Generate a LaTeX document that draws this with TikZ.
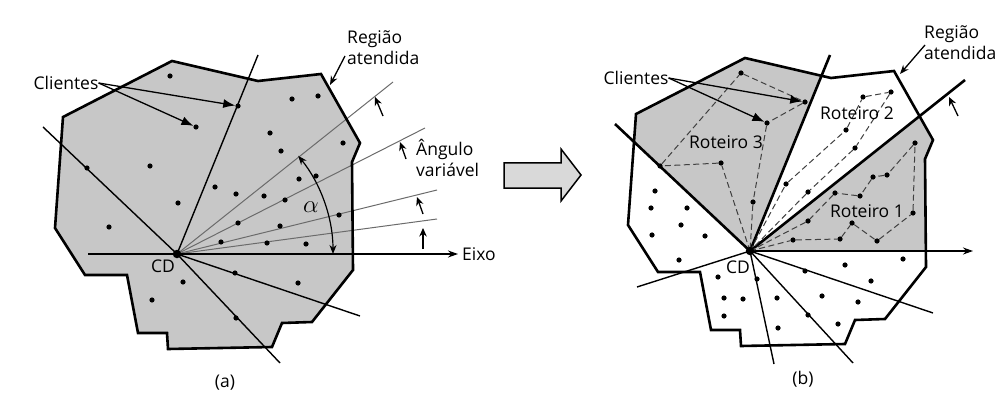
\documentclass[tikz,border=0pt]{standalone}
\usepackage{fontspec}
\setmainfont{Open Sans}
\usetikzlibrary{arrows.meta,calc}
\definecolor{regiongray}{gray}{0.78}
\definecolor{arrowgray}{gray}{0.85}
\definecolor{raygray}{gray}{0.42}
\definecolor{routegray}{gray}{0.25}

% outline of the served region (panel a coordinates)
\newcommand\regionoutline{(172,61) -- (258,81) -- (321,74) -- (360,143) -- (352,162) -- (353,270) -- (312,322) -- (282,323) -- (272,347) -- (168,349) -- (167,333) -- (138,333) -- (127,275) -- (85,275) -- (55,228) -- (63,117) -- cycle}

\begin{document}
\begin{tikzpicture}[x=1pt,y=-1pt,
  txt/.style={font=\fontsize{17.5}{21}\selectfont, inner sep=0pt},
  client/.style={circle, fill=black, inner sep=0pt, minimum size=5.2pt},
  depot/.style={circle, fill=black, inner sep=0pt, minimum size=8.5pt},
  border/.style={line width=2.6pt, line join=miter},
  sector/.style={line width=2.6pt},
  ray/.style={line width=1.4pt},
  lightray/.style={line width=1pt, draw=raygray},
  pointer/.style={line width=1.3pt, -{Latex[length=12pt,width=9pt]}},
  angtick/.style={line width=1.3pt, -{Stealth[length=8.5pt,width=7.5pt]}},
  axis/.style={-{Stealth[length=10pt,width=7pt]}},
  route/.style={line width=1pt, draw=routegray, dash pattern=on 6pt off 3.5pt},
]
\useasboundingbox (0,0) rectangle (1008,414);

% ---------------- (a) sweep over the region ----------------
\fill[regiongray] \regionoutline;
\coordinate (cdA) at (177,254);
\coordinate (aUp) at (258,55);
\coordinate (aUL) at (43,127);
\coordinate (aLRs) at (280,363);
\coordinate (aLRf) at (360,316);
\coordinate (aR1) at (393,82);
\coordinate (aR2) at (425,128);
\coordinate (aR3) at (437,190);
\coordinate (aR4) at (437,219);
\coordinate (aAxS) at (88,254);
\coordinate (aAxE) at (458,254);

\foreach \e in {aR1,aR2,aR3,aR4} \draw[lightray] (cdA) -- (\e);
\foreach \e in {aUp,aUL,aLRs,aLRf} \draw[ray] (cdA) -- (\e);
\draw[ray, axis] (aAxS) -- (aAxE);
\draw[border] \regionoutline;

\foreach \p [count=\i] in {(170,76),(196,127),(238,106),(87,168),(150,166),(292,99),
  (318,96),(270,133),(281,151),(343,143),(299,179),(316,176),(215,187),(236,194),
  (264,196),(285,200),(178,203),(109,227),(238,223),(280,226),(339,215),(221,242),
  (267,243),(306,244),(235,273),(183,282),(298,283),(152,300),(236,318)}
  \node[client] (a\i) at \p {};
\node[depot] (cdAdot) at (cdA) {};

% sweep angle
\coordinate (alphaS) at ($(cdA)+(-39:156)$);
\draw[line width=1.2pt, {Stealth[length=9pt,width=7pt]}-{Stealth[length=9pt,width=7pt]}]
  (alphaS) arc[start angle=-39, end angle=0, radius=156];
\node[font=\fontsize{26}{26}\selectfont, inner sep=0pt] (alphaA) at (311,207) {$\alpha$};

% small arrows showing the moving ray
\coordinate (t1s) at (383,116); \coordinate (t1e) at (375,97);
\coordinate (t2s) at (406,159); \coordinate (t2e) at (400,142);
\coordinate (t3s) at (423,214); \coordinate (t3e) at (417,197);
\coordinate (t4s) at (423,249); \coordinate (t4e) at (423,228);
\draw[angtick] (t1s) -- (t1e);
\draw[angtick] (t2s) -- (t2e);
\draw[angtick] (t3s) -- (t3e);
\draw[angtick] (t4s) -- (t4e);

\node[txt] (clA) at (66,83) {Clientes};
\draw[pointer] (clA.east) -- (a3);
\draw[pointer] (clA.east) -- (a2);
\node[txt, align=left, anchor=west] (regA) at (347,48) {Região\\atendida};
\coordinate (regAtip) at (330,85);
\draw[line width=1.3pt, -{Stealth[length=9pt,width=7pt]}] (345,56) -- (regAtip);
\node[txt, align=left, anchor=west] (angA) at (416,158) {Ângulo\\variável};
\node[txt, anchor=west] (eixoA) at (462,254) {Eixo};
\node[txt] (cdAlab) at (163,266) {CD};
\node[txt] (capA) at (225,383) {(a)};

% ---------------- transition arrow ----------------
\draw[line width=1.5pt, fill=arrowgray, line join=miter]
  (504,163) -- (561,163) -- (561,149) -- (581,175) -- (561,201) -- (561,188) -- (504,188) -- cycle;

% ---------------- (b) resulting routes ----------------
\coordinate (cdB) at (750,251);
\coordinate (bUL) at (615,124);
\coordinate (bUp) at (830,55);
\coordinate (bA) at (965,80);
\coordinate (bAx) at (973,251);
\coordinate (bLRf) at (933,313);
\coordinate (bLRs) at (853,363);
\coordinate (bDn) at (774,364);
\coordinate (bLL) at (637,287);

\begin{scope}
  \clip[shift={(573,-3)}] \regionoutline;
  \fill[regiongray] (cdB) -- ($(cdB)!4!(bUL)$) -- ($(cdB)!4!(bUp)$) -- cycle;
  \fill[regiongray] (cdB) -- ($(cdB)!4!(bA)$) -- ($(cdB)!4!(bAx)$) -- cycle;
\end{scope}

\foreach \e in {bLRf,bLRs,bDn,bLL} \draw[ray] (cdB) -- (\e);
\draw[border, shift={(573,-3)}] \regionoutline;
\foreach \e in {bUL,bUp,bA} \draw[sector] (cdB) -- (\e);
\draw[sector, axis] (cdB) -- (bAx);

% clients of route 3
\foreach \p [count=\i] in {(741,73),(805,102),(767,123),(721,163),(660,166),(753,202)}
  \node[client] (s\i) at \p {};
% clients of route 2
\foreach \p [count=\i] in {(786,184),(846,130),(863,97),(891,92),(855,148),(808,192)}
  \node[client] (r\i) at \p {};
% clients of route 1
\foreach \p [count=\i] in {(793,240),(840,239),(852,223),(877,241),(913,213),(915,143),
  (887,175),(873,177),(860,196),(835,193),(808,221)}
  \node[client] (u\i) at \p {};
% clients not yet assigned
\foreach \p [count=\i] in {(655,191),(651,208),(687,208),(681,225),(652,235),(705,236),
  (679,260),(718,277),(757,279),(724,298),(743,299),(724,316),(777,298),(778,328),
  (808,315),(838,324),(822,296),(858,302),(805,271),(845,265),(871,281),(903,259)}
  \node[client] (w\i) at \p {};

\draw[route] (cdB) -- (s4) -- (s5) -- (s1) -- (s2) -- (s3) -- (s6) -- (cdB);
\draw[route] (cdB) -- (r1) -- (r2) -- (r3) -- (r4) -- (r5) -- (r6) -- (cdB);
\draw[route] (cdB) -- (u1) -- (u2) -- (u3) -- (u4) -- (u5) -- (u6) -- (u7) -- (u8)
  -- (u9) -- (u10) -- (u11) -- (cdB);

\node[depot] (cdBdot) at (cdB) {};

\node[txt] (clB) at (636,78) {Clientes};
\draw[pointer] (clB.east) -- (s2);
\draw[pointer] (clB.east) -- (s3);
\node[txt, align=left, anchor=west] (regB) at (924,43) {Região\\atendida};
\coordinate (regBtip) at (900,74);
\draw[line width=1.3pt, -{Stealth[length=9pt,width=7pt]}] (925,45) -- (regBtip);
\coordinate (t5s) at (958,116); \coordinate (t5e) at (949,97);
\draw[angtick] (t5s) -- (t5e);
\node[txt] (ro3) at (726,142) {Roteiro 3};
\node[txt] (ro2) at (857,113) {Roteiro 2};
\node[txt] (ro1) at (867,211) {Roteiro 1};
\node[txt] (cdBlab) at (738,267) {CD};
\node[txt] (capB) at (803,379) {(b)};
\end{tikzpicture}
\end{document}
